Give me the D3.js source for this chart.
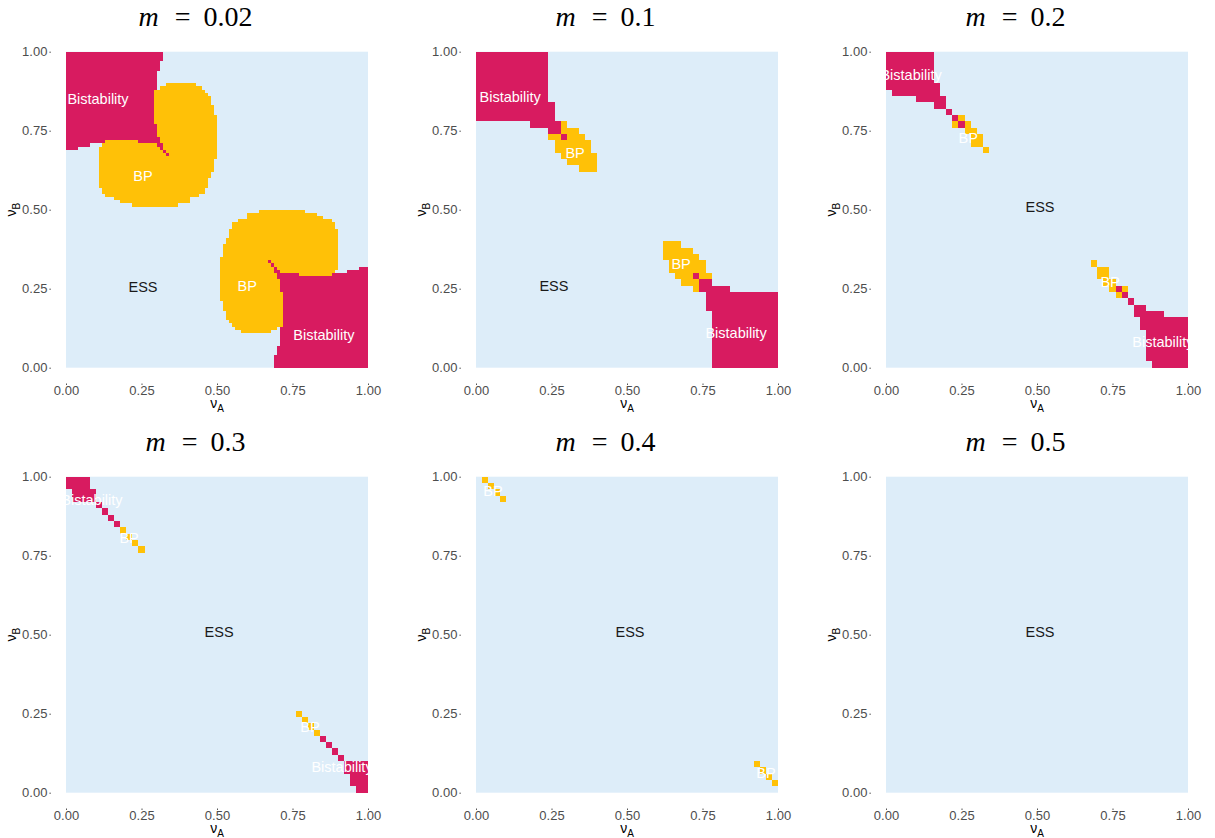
<!DOCTYPE html>
<html>
<head>
<meta charset="utf-8">
<script src="https://cdn.jsdelivr.net/npm/d3@7"></script>
<style>
  body { margin: 0; background: #fff; }
  text { font-family: "Liberation Sans", Arial, sans-serif; }
  text.title { font-family: "Liberation Serif", "DejaVu Serif", serif; }
</style>
</head>
<body>
<svg id="chart" width="1215" height="838"></svg>
<script>
// ---- data -------------------------------------------------------------
const mValues = ["0.02", "0.1", "0.2", "0.3", "0.4", "0.5"];
const tickValues = [0, 0.25, 0.5, 0.75, 1];
const tickLabels = ["0.00", "0.25", "0.50", "0.75", "1.00"];
const regionColors = { ESS: "#DDEDF9", BP: "#FFC107", Bistability: "#D81B60" };

// each block: [vA from, vA to, vB from, vB to]
const bistability_m002 = [
  [0, 0.32, 0.97, 1.00], [0, 0.31, 0.94, 0.97], [0, 0.30, 0.88, 0.94],
  [0, 0.29, 0.77, 0.88], [0, 0.30, 0.73, 0.77], [0, 0.31, 0.72, 0.73],
  [0, 0.13, 0.71, 0.72], [0.24, 0.31, 0.71, 0.72],
  [0, 0.08, 0.70, 0.71], [0.30, 0.32, 0.70, 0.71],
  [0, 0.04, 0.69, 0.70], [0.31, 0.32, 0.69, 0.70],
  [0.32, 0.33, 0.68, 0.69], [0.33, 0.34, 0.67, 0.68],
  [0.69, 1, 0.00, 0.04], [0.70, 1, 0.04, 0.07], [0.71, 1, 0.07, 0.13],
  [0.72, 1, 0.13, 0.24], [0.71, 1, 0.24, 0.28], [0.70, 1, 0.28, 0.29],
  [0.88, 1, 0.29, 0.30], [0.70, 0.77, 0.29, 0.30],
  [0.93, 1, 0.30, 0.31], [0.69, 0.71, 0.30, 0.31],
  [0.97, 1, 0.31, 0.32], [0.69, 0.70, 0.31, 0.32],
  [0.68, 0.69, 0.32, 0.33], [0.67, 0.68, 0.33, 0.34]
];
const bp_m002 = [
  [0.33, 0.43, 0.89, 0.90], [0.31, 0.45, 0.88, 0.89], [0.29, 0.46, 0.87, 0.88],
  [0.29, 0.47, 0.86, 0.87], [0.29, 0.48, 0.83, 0.86], [0.29, 0.49, 0.80, 0.83],
  [0.29, 0.50, 0.77, 0.80], [0.30, 0.50, 0.73, 0.77], [0.31, 0.50, 0.71, 0.73],
  [0.13, 0.24, 0.71, 0.72],
  [0.12, 0.30, 0.70, 0.71], [0.32, 0.50, 0.70, 0.71],
  [0.11, 0.31, 0.69, 0.70], [0.32, 0.50, 0.69, 0.70],
  [0.11, 0.32, 0.68, 0.69], [0.33, 0.50, 0.68, 0.69],
  [0.11, 0.33, 0.67, 0.68], [0.34, 0.50, 0.67, 0.68],
  [0.11, 0.50, 0.66, 0.67], [0.11, 0.49, 0.62, 0.66], [0.11, 0.48, 0.60, 0.62],
  [0.11, 0.47, 0.57, 0.60], [0.12, 0.46, 0.55, 0.57], [0.13, 0.44, 0.54, 0.55],
  [0.16, 0.41, 0.53, 0.54], [0.18, 0.41, 0.52, 0.53], [0.22, 0.37, 0.51, 0.52],
  [0.58, 0.68, 0.11, 0.12], [0.56, 0.70, 0.12, 0.13], [0.55, 0.72, 0.13, 0.14],
  [0.54, 0.72, 0.14, 0.15], [0.53, 0.72, 0.15, 0.18], [0.52, 0.72, 0.18, 0.21],
  [0.51, 0.72, 0.21, 0.24], [0.51, 0.71, 0.24, 0.28], [0.51, 0.70, 0.28, 0.30],
  [0.77, 0.88, 0.29, 0.30],
  [0.71, 0.89, 0.30, 0.31], [0.51, 0.69, 0.30, 0.31],
  [0.70, 0.90, 0.31, 0.32], [0.51, 0.69, 0.31, 0.32],
  [0.69, 0.90, 0.32, 0.33], [0.51, 0.68, 0.32, 0.33],
  [0.68, 0.90, 0.33, 0.34], [0.51, 0.67, 0.33, 0.34],
  [0.51, 0.90, 0.34, 0.35], [0.52, 0.90, 0.35, 0.39], [0.53, 0.90, 0.39, 0.41],
  [0.54, 0.90, 0.41, 0.44], [0.55, 0.89, 0.44, 0.46], [0.57, 0.88, 0.46, 0.47],
  [0.60, 0.85, 0.47, 0.48], [0.60, 0.83, 0.48, 0.49], [0.64, 0.79, 0.49, 0.50]
];

const bistability_m01 = [
  [0, 0.24, 0.84, 1], [0, 0.26, 0.78, 0.84], [0.18, 0.28, 0.76, 0.78],
  [0.24, 0.28, 0.74, 0.76], [0.28, 0.30, 0.72, 0.74],
  [0.78, 1, 0, 0.18], [0.76, 1, 0.18, 0.24], [0.74, 0.84, 0.24, 0.26],
  [0.74, 0.78, 0.26, 0.28], [0.72, 0.74, 0.28, 0.30]
];
const bp_m01 = [
  [0.28, 0.30, 0.76, 0.78], [0.28, 0.34, 0.74, 0.76], [0.24, 0.28, 0.72, 0.74],
  [0.30, 0.36, 0.72, 0.74], [0.26, 0.38, 0.68, 0.72], [0.28, 0.40, 0.66, 0.68],
  [0.30, 0.40, 0.64, 0.66], [0.34, 0.40, 0.62, 0.64],
  [0.72, 0.74, 0.24, 0.26], [0.68, 0.74, 0.26, 0.28], [0.74, 0.78, 0.28, 0.30],
  [0.66, 0.72, 0.28, 0.30], [0.64, 0.76, 0.30, 0.34], [0.62, 0.74, 0.34, 0.36],
  [0.62, 0.72, 0.36, 0.38], [0.62, 0.68, 0.38, 0.40]
];

const bistability_m02 = [
  [0, 0.16, 0.90, 1], [0, 0.18, 0.88, 0.90], [0.02, 0.18, 0.86, 0.88],
  [0.10, 0.20, 0.84, 0.86], [0.16, 0.20, 0.82, 0.84], [0.20, 0.22, 0.80, 0.82],
  [0.22, 0.24, 0.78, 0.80], [0.24, 0.26, 0.76, 0.78],
  [0.88, 1, 0, 0.02], [0.86, 1, 0.02, 0.12], [0.84, 1, 0.12, 0.16],
  [0.82, 0.92, 0.16, 0.18], [0.82, 0.86, 0.18, 0.20], [0.80, 0.82, 0.20, 0.22],
  [0.78, 0.80, 0.22, 0.24], [0.76, 0.78, 0.24, 0.26]
];
const bp_m02 = [
  [0.24, 0.26, 0.78, 0.80], [0.22, 0.24, 0.76, 0.78], [0.26, 0.28, 0.76, 0.78],
  [0.26, 0.30, 0.74, 0.76], [0.28, 0.32, 0.70, 0.74], [0.32, 0.34, 0.68, 0.70],
  [0.76, 0.78, 0.22, 0.24], [0.78, 0.80, 0.24, 0.26], [0.74, 0.76, 0.24, 0.26],
  [0.72, 0.76, 0.26, 0.28], [0.70, 0.74, 0.28, 0.32], [0.68, 0.70, 0.32, 0.34]
];

const bistability_m03 = [
  [0, 0.08, 0.96, 1], [0.02, 0.10, 0.92, 0.96], [0.10, 0.12, 0.90, 0.92],
  [0.12, 0.14, 0.88, 0.90], [0.14, 0.16, 0.86, 0.88], [0.16, 0.18, 0.84, 0.86],
  [0.96, 1, 0, 0.02], [0.94, 1, 0.02, 0.06], [0.92, 1, 0.06, 0.10],
  [0.90, 0.92, 0.10, 0.12], [0.88, 0.90, 0.12, 0.14], [0.86, 0.88, 0.14, 0.16],
  [0.84, 0.86, 0.16, 0.18]
];
const bp_m03 = [
  [0.18, 0.20, 0.82, 0.84], [0.20, 0.22, 0.80, 0.82], [0.22, 0.24, 0.78, 0.80],
  [0.24, 0.26, 0.76, 0.78],
  [0.82, 0.84, 0.18, 0.20], [0.80, 0.82, 0.20, 0.22], [0.78, 0.80, 0.22, 0.24],
  [0.76, 0.78, 0.24, 0.26]
];

const bistability_m04 = [];
const bp_m04 = [
  [0.02, 0.04, 0.98, 1], [0.04, 0.06, 0.96, 0.98], [0.06, 0.08, 0.94, 0.96],
  [0.08, 0.10, 0.92, 0.94],
  [0.98, 1, 0.02, 0.04], [0.96, 0.98, 0.04, 0.06], [0.94, 0.96, 0.06, 0.08],
  [0.92, 0.94, 0.08, 0.10]
];

const bistability_m05 = [];
const bp_m05 = [];

// region labels: [text, vA, vB]
const labels_m002 = [["Bistability", 0.106, 0.85], ["BP", 0.255, 0.606], ["ESS", 0.255, 0.255],
                     ["BP", 0.60, 0.258], ["Bistability", 0.854, 0.103]];
const labels_m01 = [["Bistability", 0.113, 0.857], ["BP", 0.328, 0.68], ["ESS", 0.258, 0.258],
                    ["BP", 0.679, 0.33], ["Bistability", 0.861, 0.109]];
const labels_m02 = [["Bistability", 0.083, 0.926], ["BP", 0.272, 0.727], ["ESS", 0.51, 0.508],
                    ["BP", 0.742, 0.271], ["Bistability", 0.917, 0.082]];
const labels_m03 = [["Bistability", 0.086, 0.926], ["BP", 0.209, 0.806], ["ESS", 0.507, 0.508],
                    ["BP", 0.808, 0.208], ["Bistability", 0.914, 0.081]];
const labels_m04 = [["BP", 0.056, 0.955], ["ESS", 0.51, 0.508], ["BP", 0.96, 0.062]];
const labels_m05 = [["ESS", 0.51, 0.508]];

const panels = [
  { m: mValues[0], bist: bistability_m002, bp: bp_m002, labels: labels_m002 },
  { m: mValues[1], bist: bistability_m01, bp: bp_m01, labels: labels_m01 },
  { m: mValues[2], bist: bistability_m02, bp: bp_m02, labels: labels_m02 },
  { m: mValues[3], bist: bistability_m03, bp: bp_m03, labels: labels_m03 },
  { m: mValues[4], bist: bistability_m04, bp: bp_m04, labels: labels_m04 },
  { m: mValues[5], bist: bistability_m05, bp: bp_m05, labels: labels_m05 }
];

// ---- layout -----------------------------------------------------------
const colX = [66, 476, 886];
const rowY = [51.7, 476.7];
const W = 302, H = 316;
const padX = W * 0.05, padY = H * 0.05;

const svg = d3.select("#chart");

panels.forEach((p, i) => {
  const x0 = colX[i % 3], y0 = rowY[Math.floor(i / 3)];
  const x = d3.scaleLinear().domain([0, 1]).range([x0, x0 + W]);
  const y = d3.scaleLinear().domain([0, 1]).range([y0 + H, y0]);
  const g = svg.append("g");

  // ESS background covering the whole grid
  g.append("rect")
    .attr("x", x(0)).attr("y", y(1))
    .attr("width", x(1) - x(0)).attr("height", y(0) - y(1))
    .attr("fill", regionColors.ESS);

  const drawBlocks = (data, color) => {
    g.append("g").attr("shape-rendering", "crispEdges")
      .selectAll("rect").data(data).join("rect")
      .attr("x", d => x(d[0]))
      .attr("y", d => y(d[3]))
      .attr("width", d => x(d[1]) - x(d[0]))
      .attr("height", d => y(d[2]) - y(d[3]))
      .attr("fill", color);
  };
  drawBlocks(p.bist, regionColors.Bistability);
  drawBlocks(p.bp, regionColors.BP);

  // region labels
  g.selectAll("text.lab").data(p.labels).join("text")
    .attr("class", "lab")
    .attr("x", d => x(d[1]))
    .attr("y", d => y(d[2]))
    .attr("dy", "0.36em")
    .attr("text-anchor", "middle")
    .attr("font-size", 14.5)
    .attr("fill", d => d[0] === "ESS" ? "#1a1a1a" : "#ffffff")
    .text(d => d[0]);

  // axes: ticks sit on the expanded panel border
  const xAxisY = y0 + H + padY;
  const yAxisX = x0 - padX;
  const xAxis = d3.axisBottom(x).tickValues(tickValues)
    .tickFormat((d, k) => tickLabels[k]).tickSize(1.5).tickPadding(0.5);
  const yAxis = d3.axisLeft(y).tickValues(tickValues)
    .tickFormat((d, k) => tickLabels[k]).tickSize(1.5).tickPadding(2);

  const gx = g.append("g").attr("transform", `translate(0,${xAxisY})`).call(xAxis);
  const gy = g.append("g").attr("transform", `translate(${yAxisX},0)`).call(yAxis);
  [gx, gy].forEach(a => {
    a.select(".domain").remove();
    a.selectAll(".tick line").attr("stroke", "#555").attr("stroke-width", 1);
    a.selectAll(".tick text").attr("fill", "#4d4d4d")
      .style("font-size", "13px")
      .style("font-family", "'Liberation Sans', Arial, sans-serif");
  });

  // axis titles
  const xt = g.append("text")
    .attr("x", x(0.5)).attr("y", y0 + H + 40.5)
    .attr("text-anchor", "middle").attr("font-size", 14).attr("fill", "#000");
  xt.append("tspan").text("ν");
  xt.append("tspan").attr("font-size", 10).attr("dy", 3.5).text("A");

  const yt = g.append("text")
    .attr("transform", `translate(${x0 - 50},${y(0.5)}) rotate(-90)`)
    .attr("text-anchor", "middle").attr("font-size", 14).attr("fill", "#000");
  yt.append("tspan").text("ν");
  yt.append("tspan").attr("font-size", 10).attr("dy", 3.5).text("B");

  // panel title  m = value
  const cx = x0 + W / 2 - 21.5;
  const tt = g.append("text")
    .attr("class", "title")
    .attr("x", cx).attr("y", y0 - 25.5)
    .attr("text-anchor", "middle")
    .attr("font-size", 28).attr("fill", "#000");
  tt.append("tspan").attr("font-style", "italic").text("m");
  tt.append("tspan").attr("dx", 16).text("=");
  tt.append("tspan").attr("dx", 13).text(p.m);
});
</script>
</body>
</html>
